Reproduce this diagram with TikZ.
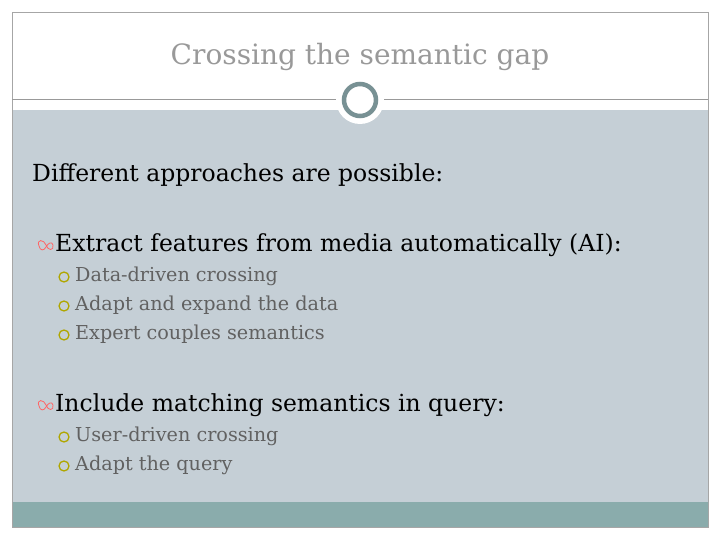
\documentclass[tikz,border=0pt]{standalone}
\usepackage{fontspec}
\setmainfont{DejaVu Serif}
\definecolor{bg}{RGB}{197,207,214}
\definecolor{bar}{RGB}{138,172,172}
\definecolor{ringc}{RGB}{120,145,148}
\begin{document}
\begin{tikzpicture}[x=1pt,y=-1pt,
  sub/.style={anchor=west,font=\fontsize{19.2}{22}\selectfont,text=black!62,inner sep=0},
  main/.style={anchor=west,font=\fontsize{23.5}{28}\selectfont,inner sep=0},
  ring/.style={draw=olive!70!yellow,line width=1.3pt}]
\useasboundingbox (0,0) rectangle (720,540);
\fill[white] (0,0) rectangle (720,540);
\fill[bg] (12,110) rectangle (708,502);
\fill[bar] (12,502) rectangle (708,527);
\draw[gray!70] (12,12) rectangle (708,527);
\draw[gray!80,line width=1pt] (12,100) -- (708,100);
\fill[white] (360,100) circle (24);
\draw[ringc,line width=4.5pt] (360,100) circle (16);
\node (title) at (360,57) {\fontsize{28}{32}\selectfont\color{gray!80}Crossing the semantic gap};
\node[main] (intro) at (32,175) {Different approaches are possible:};
\node[main] (m1) at (55,245) {Extract features from media automatically (AI):};
\node[main] (m2) at (55,405) {Include matching semantics in query:};
\foreach \n/\y/\t in {a/276/Data-driven crossing,b/305/Adapt and expand the data,c/334/Expert couples semantics,d/436/User-driven crossing,e/465/Adapt the query}{
  \node[sub] (s\n) at (75,\y) {\t};
  \draw[ring] (64,\y+1) circle (5);
}
\foreach \y in {245,405}{
  \draw[red!60,line width=0.8pt] (39,\y+1) .. controls (36,\y-6) and (44,\y-6) .. (46,\y) .. controls (48,\y+6) and (54,\y+6) .. (53,\y) .. controls (52,\y-4) and (48,\y-2) .. (46,\y+2) .. controls (44,\y+6) and (40,\y+6) .. (39,\y+1);
}
\end{tikzpicture}
\end{document}
